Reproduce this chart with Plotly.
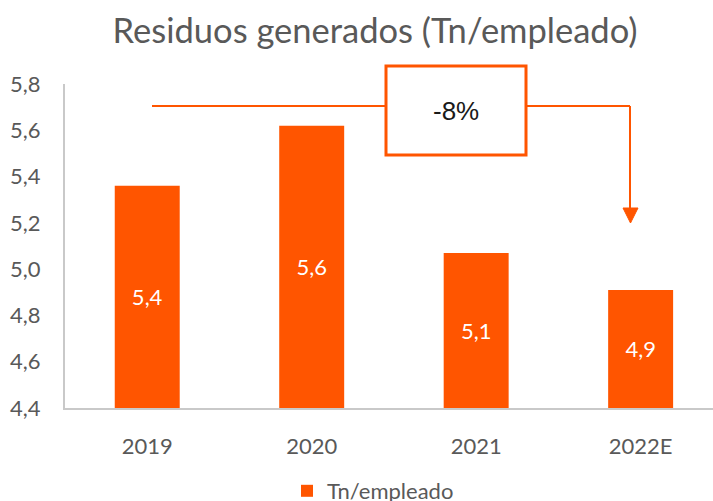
import plotly.graph_objects as go

categories = ["2019", "2020", "2021", "2022E"]
values = [5.36, 5.62, 5.07, 4.91]
series_name = "Tn/empleado"
title_text = "Residuos generados (Tn/empleado)"
change_label = "-8%"
y_ticks = [4.4, 4.6, 4.8, 5.0, 5.2, 5.4, 5.6, 5.8]
y_min, y_max = 4.4, 5.8

ORANGE = "#FF5500"
GRAY = "#595959"
FONT = "Lato"

W, H = 713, 501
L, R, T, B = 65, 0, 84, 93
pw, ph = W - L - R, H - T - B


def px(x):
    return (x - L) / pw


def py(y):
    return (H - B - y) / ph


fig = go.Figure()
fig.add_trace(go.Bar(
    x=categories, y=[v - y_min for v in values], base=y_min, name=series_name,
    customdata=values,
    marker=dict(color=ORANGE, line=dict(width=0)),
    width=0.395,
    texttemplate="%{customdata:.1f}", textposition="inside",
    insidetextanchor="middle",
    textfont=dict(color="white", size=22, family=FONT),
    hovertemplate="%{x}: %{customdata:.2f}<extra></extra>",
    showlegend=True,
))

line_style = dict(color=ORANGE, width=2)
shapes = [
    dict(type="line", xref="paper", yref="paper", x0=px(152), x1=px(386), y0=py(106), y1=py(106), line=line_style),
    dict(type="line", xref="paper", yref="paper", x0=px(526), x1=px(630), y0=py(106), y1=py(106), line=line_style),
    dict(type="line", xref="paper", yref="paper", x0=px(630), x1=px(630), y0=py(106), y1=py(209), line=line_style),
    dict(type="path", xref="paper", yref="paper",
         path=f"M {px(623)} {py(208)} L {px(638)} {py(208)} L {px(630.5)} {py(223)} Z",
         fillcolor=ORANGE, line=dict(color=ORANGE, width=1)),
    dict(type="rect", xref="paper", yref="paper", x0=px(386), x1=px(526), y0=py(155), y1=py(66),
         fillcolor="white", line=dict(color=ORANGE, width=3)),
]

fig.update_layout(
    width=W, height=H,
    margin=dict(l=L, r=R, t=T, b=B, autoexpand=False),
    paper_bgcolor="white", plot_bgcolor="white",
    separators=",.",
    font=dict(family=FONT, color=GRAY, size=22),
    title=dict(text=title_text, x=375 / W, xanchor="center", xref="container",
               y=1 - 31 / H, yanchor="middle", yref="container",
               font=dict(size=34.5, color=GRAY, family=FONT)),
    shapes=shapes,
    annotations=[dict(text=change_label, xref="paper", yref="paper", x=px(456), y=py(111),
                      showarrow=False, font=dict(size=26, color="#1a1a1a", family="Liberation Sans"),
                      xanchor="center", yanchor="middle")],
    legend=dict(orientation="h", x=px(373), y=py(491), xanchor="center", yanchor="middle",
                font=dict(size=22, color=GRAY, family=FONT), bgcolor="rgba(0,0,0,0)"),
)
fig.update_xaxes(
    type="category", range=[-0.5, 3.44],
    showline=True, linecolor="#c9c9c9", linewidth=2,
    showgrid=False, ticks="", ticklabelstandoff=18,
    tickfont=dict(size=22, color=GRAY, family=FONT),
)
fig.update_yaxes(
    range=[y_min, y_max], tickvals=y_ticks, tickformat=".1f",
    showline=True, linecolor="#c9c9c9", linewidth=2,
    showgrid=False, zeroline=False, ticks="", ticklabelstandoff=18,
    tickfont=dict(size=22, color=GRAY, family=FONT),
)

fig.write_html("out.html", config={"displayModeBar": False},
               post_script="document.body.style.margin='0';document.body.style.overflow='hidden';")
